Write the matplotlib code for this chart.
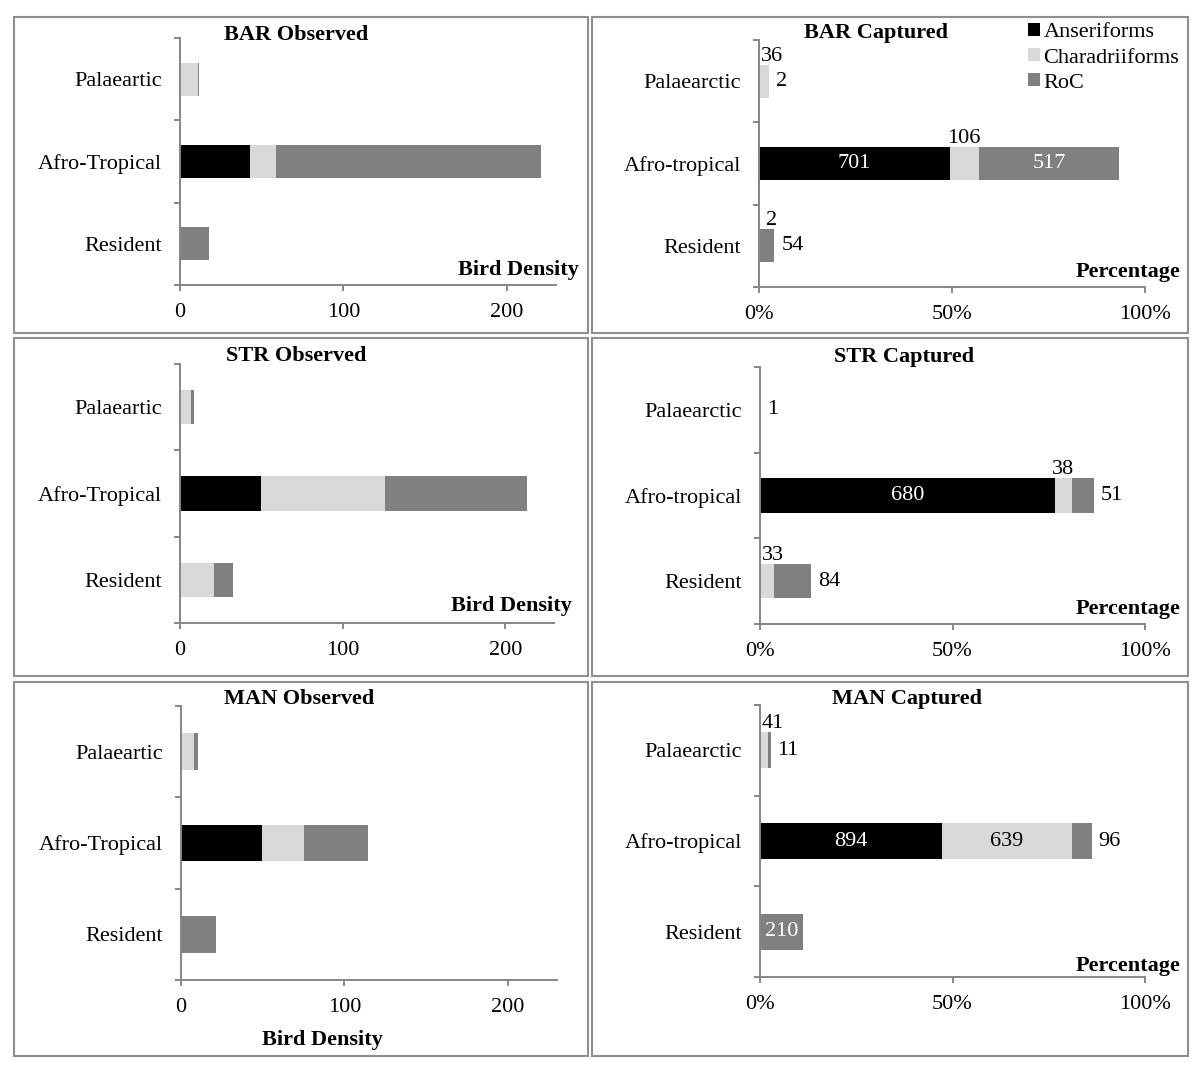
import numpy as np
import matplotlib
matplotlib.use("Agg")
import matplotlib.pyplot as plt
from matplotlib.patches import Rectangle, Patch

plt.rcParams['font.family'] = ['Liberation Serif', 'DejaVu Serif']

W, H = 1200, 1069

# series / categories
groups = ['Anseriforms', 'Charadriiforms', 'RoC']
colors = ['#000000', '#d9d9d9', '#808080']
obs_cats = ['Palaeartic', 'Afro-Tropical', 'Resident']
cap_cats = ['Palaearctic', 'Afro-tropical', 'Resident']

# observed bird density, rows: Palaeartic, Afro-Tropical, Resident
bar_obs_anser = [0, 42.8, 0]
bar_obs_chara = [11.0, 15.7, 0]
bar_obs_roc = [0.6, 162.3, 17.8]

str_obs_anser = [0, 49.6, 0]
str_obs_chara = [6.9, 76.3, 20.9]
str_obs_roc = [1.9, 87.6, 11.6]

man_obs_anser = [0, 49.6, 0]
man_obs_chara = [7.8, 25.5, 0]
man_obs_roc = [2.7, 39.4, 21.4]

# captured counts (drawn as % of the site total)
bar_cap_anser = [0, 701, 0]
bar_cap_chara = [36, 106, 2]
bar_cap_roc = [2, 517, 54]

str_cap_anser = [0, 680, 0]
str_cap_chara = [1, 38, 33]
str_cap_roc = [0, 51, 84]

man_cap_anser = [0, 894, 0]
man_cap_chara = [41, 639, 0]
man_cap_roc = [11, 96, 210]

GREY = '#868686'
FS = 16


def fx(x):
    return x / W


def fy(y):
    return 1 - y / H


def add_axes_px(fig, left, top, right, bottom):
    return fig.add_axes([fx(left), fy(bottom), (right - left) / W, (bottom - top) / H])


def style_axes(ax, cats, xmax, xticks, xticklabels):
    ax.set_xlim(0, xmax)
    ax.set_ylim(-0.5, 2.5)
    for s in ['top', 'right']:
        ax.spines[s].set_visible(False)
    for s in ['left', 'bottom']:
        ax.spines[s].set_color(GREY)
        ax.spines[s].set_linewidth(1.4)
    ax.set_xticks(xticks)
    ax.set_xticklabels(xticklabels)
    ax.set_yticks([-0.5, 0.5, 1.5, 2.5])
    ax.set_yticklabels([])
    ax.set_yticks([2, 1, 0], minor=True)
    ax.set_yticklabels(cats, minor=True)
    ax.tick_params(axis='y', which='major', length=4, width=1.4, color=GREY, direction='out')
    ax.tick_params(axis='y', which='minor', length=0, pad=13, labelsize=FS)
    ax.tick_params(axis='x', which='major', length=4, width=1.4, color=GREY,
                   direction='out', pad=9, labelsize=FS)


def draw_stack(ax, series):
    ypos = [2, 1, 0]
    left = np.zeros(3)
    for vals, c in zip(series, colors):
        ax.barh(ypos, vals, left=left, height=0.4, color=c, linewidth=0)
        left = left + np.array(vals)
    return left


def draw_labels(ax, counts, pct, placements):
    ypos = [2, 1, 0]
    for row, g, mode in placements:
        left = sum(p[row] for p in pct[:g])
        seg = pct[g][row]
        total = sum(p[row] for p in pct)
        txt = str(counts[g][row])
        y = ypos[row]
        if mode == 'above':
            ax.text(max(left + seg / 2, 3.3), y + 0.19, txt, ha='center', va='bottom', fontsize=FS)
        elif mode == 'right':
            ax.annotate(txt, (total, y), xytext=(7, 0), textcoords='offset pixels',
                        ha='left', va='center', fontsize=FS)
        else:
            col = 'white' if mode == 'in_w' else 'black'
            ax.text(left + seg / 2, y, txt, ha='center', va='center', fontsize=FS, color=col)


def box(fig, left, top, right, bottom):
    fig.patches.append(Rectangle((fx(left), fy(bottom)), (right - left) / W, (bottom - top) / H,
                                 transform=fig.transFigure, fill=False,
                                 edgecolor='#8f8f8f', linewidth=1.5))


fig = plt.figure(figsize=(W / 100, H / 100), dpi=100)

# panel frames
box(fig, 14, 17, 588, 333)
box(fig, 592, 17, 1188, 333)
box(fig, 14, 338, 588, 676)
box(fig, 592, 338, 1188, 676)
box(fig, 14, 682, 588, 1056)
box(fig, 592, 682, 1188, 1056)

# observed panels
obs_data = [
    ([bar_obs_anser, bar_obs_chara, bar_obs_roc], (180, 38, 556, 285), 'BAR Observed', (296, 35)),
    ([str_obs_anser, str_obs_chara, str_obs_roc], (180, 364, 554, 623), 'STR Observed', (296, 356)),
    ([man_obs_anser, man_obs_chara, man_obs_roc], (181, 706, 557, 980), 'MAN Observed', (299, 699)),
]
for series, (l, t, r, b), title, (tx, ty) in obs_data:
    ax = add_axes_px(fig, l, t, r, b)
    draw_stack(ax, series)
    style_axes(ax, obs_cats, 230, [0, 100, 200], ['0', '100', '200'])
    fig.text(fx(tx), fy(ty), title, ha='center', va='center', fontsize=FS, fontweight='bold')

fig.text(fx(579), fy(270), 'Bird Density', ha='right', va='center', fontsize=FS, fontweight='bold')
fig.text(fx(572), fy(606), 'Bird Density', ha='right', va='center', fontsize=FS, fontweight='bold')
fig.text(fx(322), fy(1040), 'Bird Density', ha='center', va='center', fontsize=FS, fontweight='bold')

# captured panels
cap_data = [
    ([bar_cap_anser, bar_cap_chara, bar_cap_roc], (759, 40, 1145, 287), 'BAR Captured', (876, 33),
     [(0, 1, 'above'), (0, 2, 'right'), (1, 0, 'in_w'), (1, 1, 'above'), (1, 2, 'in_w'),
      (2, 1, 'above'), (2, 2, 'right')], 272),
    ([str_cap_anser, str_cap_chara, str_cap_roc], (760, 367, 1145, 624), 'STR Captured', (904, 357),
     [(0, 1, 'right'), (1, 0, 'in_w'), (1, 1, 'above'), (1, 2, 'right'),
      (2, 1, 'above'), (2, 2, 'right')], 609),
    ([man_cap_anser, man_cap_chara, man_cap_roc], (760, 705, 1145, 977), 'MAN Captured', (907, 699),
     [(0, 1, 'above'), (0, 2, 'right'), (1, 0, 'in_w'), (1, 1, 'in_k'), (1, 2, 'right'),
      (2, 2, 'in_w')], 966),
]
for counts, (l, t, r, b), title, (tx, ty), placements, py in cap_data:
    total = sum(sum(c) for c in counts)
    pct = [[v / total * 100 for v in c] for c in counts]
    ax = add_axes_px(fig, l, t, r, b)
    draw_stack(ax, pct)
    style_axes(ax, cap_cats, 100, [0, 50, 100], ['0%', '50%', '100%'])
    draw_labels(ax, counts, pct, placements)
    fig.text(fx(tx), fy(ty), title, ha='center', va='center', fontsize=FS, fontweight='bold')
    fig.text(fx(1180), fy(py), 'Percentage', ha='right', va='center', fontsize=FS, fontweight='bold')

handles = [Patch(facecolor=c, edgecolor='none') for c in colors]
fig.legend(handles, groups, loc='upper right', bbox_to_anchor=(fx(1188), fy(14)),
           frameon=False, fontsize=FS, handlelength=0.55, handleheight=0.55,
           handletextpad=0.15, labelspacing=0.25, borderaxespad=0)

fig.savefig('out.png', dpi=100)
